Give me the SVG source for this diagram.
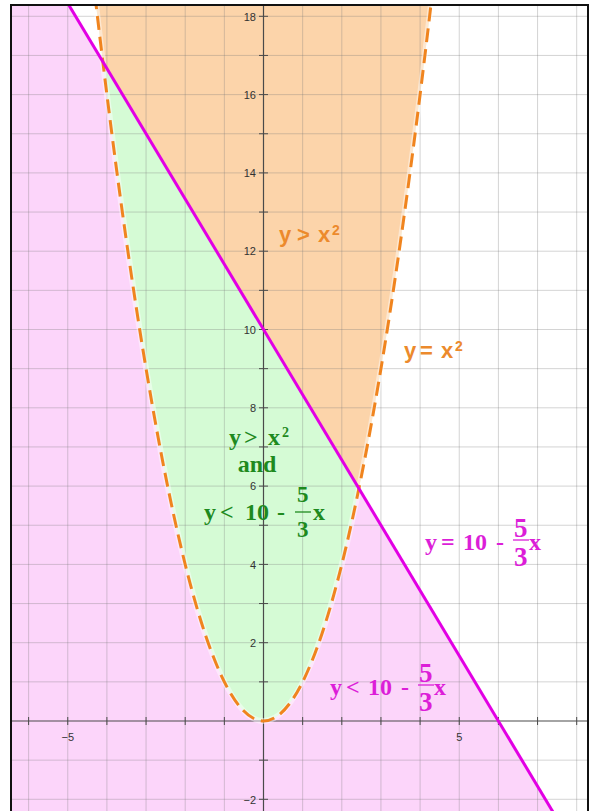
<svg xmlns="http://www.w3.org/2000/svg" width="592" height="811" viewBox="0 0 592 811">
<defs>
<style>
.grid line{stroke:#7a7a7a;stroke-opacity:0.32;stroke-width:1}
.axis{stroke:#4a4a4a;stroke-width:1.2}
.tick{stroke:#4a4a4a;stroke-width:1}
.num{font-family:"Liberation Sans",Arial,sans-serif;font-size:11px;fill:#333}
.or{font-family:"Liberation Sans",Arial,sans-serif;font-weight:bold;font-size:22px;fill:#ec8a2c}
.gr{font-family:"Liberation Serif","Times New Roman",serif;font-weight:bold;font-size:24px;fill:#1e8a1e}
.mg{font-family:"Liberation Serif","Times New Roman",serif;font-weight:bold;font-size:24px;fill:#dc1ed8}
.sup{font-size:14px}
.frac{font-size:27px}
</style>
<clipPath id="frame"><rect x="12" y="6" width="575" height="810"/></clipPath>
<clipPath id="above"><polygon points="62.8,-5 600,-5 600,890.3"/></clipPath>
</defs>
<rect x="0" y="0" width="592" height="811" fill="#fff"/>
<g id="plot" clip-path="url(#frame)">
  <g id="regions">
    <polygon id="pink" points="-10,-5 62.8,-5 555.4,816 -10,816" fill="#fcd5fa"/>
    <path id="green" d="M94.9,-5 Q263.5,1447 432.1,-5 Z" fill="#d5fbd5"/>
    <path id="orange" d="M94.9,-5 Q263.5,1447 432.1,-5 Z" fill="#fcd4aa" clip-path="url(#above)"/>
  </g>
  <g class="grid" id="grid">
    <line x1="28.6" y1="0" x2="28.6" y2="811"/>
    <line x1="67.75" y1="0" x2="67.75" y2="811"/>
    <line x1="106.9" y1="0" x2="106.9" y2="811"/>
    <line x1="146.05" y1="0" x2="146.05" y2="811"/>
    <line x1="185.2" y1="0" x2="185.2" y2="811"/>
    <line x1="224.35" y1="0" x2="224.35" y2="811"/>
    <line x1="302.65" y1="0" x2="302.65" y2="811"/>
    <line x1="341.8" y1="0" x2="341.8" y2="811"/>
    <line x1="380.95" y1="0" x2="380.95" y2="811"/>
    <line x1="420.1" y1="0" x2="420.1" y2="811"/>
    <line x1="459.25" y1="0" x2="459.25" y2="811"/>
    <line x1="498.4" y1="0" x2="498.4" y2="811"/>
    <line x1="537.55" y1="0" x2="537.55" y2="811"/>
    <line x1="576.7" y1="0" x2="576.7" y2="811"/>
    <line x1="0" y1="16.3" x2="592" y2="16.3"/>
    <line x1="0" y1="55.45" x2="592" y2="55.45"/>
    <line x1="0" y1="94.6" x2="592" y2="94.6"/>
    <line x1="0" y1="133.75" x2="592" y2="133.75"/>
    <line x1="0" y1="172.9" x2="592" y2="172.9"/>
    <line x1="0" y1="212.05" x2="592" y2="212.05"/>
    <line x1="0" y1="251.2" x2="592" y2="251.2"/>
    <line x1="0" y1="290.35" x2="592" y2="290.35"/>
    <line x1="0" y1="329.5" x2="592" y2="329.5"/>
    <line x1="0" y1="368.65" x2="592" y2="368.65"/>
    <line x1="0" y1="407.8" x2="592" y2="407.8"/>
    <line x1="0" y1="446.95" x2="592" y2="446.95"/>
    <line x1="0" y1="486.1" x2="592" y2="486.1"/>
    <line x1="0" y1="525.25" x2="592" y2="525.25"/>
    <line x1="0" y1="564.4" x2="592" y2="564.4"/>
    <line x1="0" y1="603.55" x2="592" y2="603.55"/>
    <line x1="0" y1="642.7" x2="592" y2="642.7"/>
    <line x1="0" y1="681.85" x2="592" y2="681.85"/>
    <line x1="0" y1="760.15" x2="592" y2="760.15"/>
    <line x1="0" y1="799.3" x2="592" y2="799.3"/>
  </g>
  <g id="axes">
    <line class="axis" x1="263.5" y1="0" x2="263.5" y2="811"/>
    <line class="axis" x1="0" y1="721" x2="592" y2="721"/>
    <path class="tick" d="M28.6,717v8M67.75,717v8M106.9,717v8M146.05,717v8M185.2,717v8M224.35,717v8M302.65,717v8M341.8,717v8M380.95,717v8M420.1,717v8M459.25,717v8M498.4,717v8M537.55,717v8M576.7,717v8
    M259,16.3h9M259,55.45h9M259,94.6h9M259,133.75h9M259,172.9h9M259,212.05h9M259,251.2h9M259,290.35h9M259,329.5h9M259,368.65h9M259,407.8h9M259,446.95h9M259,486.1h9M259,525.25h9M259,564.4h9M259,603.55h9M259,642.7h9M259,681.85h9M259,760.15h9M259,799.3h9"/>
    <g class="num" text-anchor="end">
      <text x="256" y="20.5">18</text>
      <text x="256" y="98.8">16</text>
      <text x="256" y="177.1">14</text>
      <text x="256" y="255.4">12</text>
      <text x="256" y="333.7">10</text>
      <text x="256" y="412">8</text>
      <text x="256" y="490.3">6</text>
      <text x="256" y="568.6">4</text>
      <text x="256" y="646.9">2</text>
      <text x="256" y="803.5">−2</text>
    </g>
    <g class="num" text-anchor="middle">
      <text x="67.75" y="741">−5</text>
      <text x="459.25" y="741">5</text>
    </g>
  </g>
  <g id="connectors">
    <path id="parabola-band" d="M94.9,-5 Q263.5,1447 432.1,-5" fill="none" stroke="#fff" stroke-opacity="0.45" stroke-width="6"/>
    <path id="parabola" d="M94.9,-5 Q263.5,1447 432.1,-5" fill="none" stroke="#f0841e" stroke-width="3" stroke-dasharray="14 7"/>
    <line id="boundary-line" x1="62.8" y1="-5" x2="555.4" y2="816" stroke="#e200e4" stroke-width="3"/>
  </g>
</g>
<g id="label-orange-region" class="or">
  <text x="279" y="242">y</text>
  <text x="297" y="242">&gt;</text>
  <text x="318" y="242">x</text>
  <text x="332" y="235" class="sup">2</text>
</g>
<g id="label-parabola" class="or">
  <text x="404" y="358">y</text>
  <text x="420" y="358">=</text>
  <text x="441" y="358">x</text>
  <text x="455" y="351" class="sup">2</text>
</g>
<g id="label-green-region" class="gr">
  <text x="229" y="445">y</text>
  <text x="244" y="445">&gt;</text>
  <text x="268" y="445">x</text>
  <text x="282" y="437" class="sup" font-size="15">2</text>
  <text x="257" y="472" text-anchor="middle">and</text>
  <text x="204" y="520">y</text>
  <text x="220" y="520">&lt;</text>
  <text x="245" y="520">10</text>
  <text x="277" y="520">-</text>
  <text x="297" y="502" font-size="23">5</text>
  <line x1="295" y1="512" x2="311" y2="512" stroke="#1e8a1e" stroke-width="1.3"/>
  <text x="297" y="537" font-size="23">3</text>
  <text x="313" y="520">x</text>
</g>
<g id="label-line" class="mg">
  <text x="425" y="550">y</text>
  <text x="441" y="550">=</text>
  <text x="463" y="550">10</text>
  <text x="496" y="550">-</text>
  <text x="514" y="537" class="frac">5</text>
  <line x1="513" y1="540" x2="529" y2="540" stroke="#dc1ed8" stroke-width="1.3"/>
  <text x="514" y="566" class="frac">3</text>
  <text x="529" y="550">x</text>
</g>
<g id="label-pink-region" class="mg">
  <text x="330" y="695">y</text>
  <text x="346" y="695">&lt;</text>
  <text x="368" y="695">10</text>
  <text x="401" y="695">-</text>
  <text x="419" y="682" class="frac">5</text>
  <line x1="418" y1="685" x2="434" y2="685" stroke="#dc1ed8" stroke-width="1.3"/>
  <text x="419" y="711" class="frac">3</text>
  <text x="434" y="695">x</text>
</g>
<rect id="frame-border" x="11" y="5" width="577" height="830" fill="none" stroke="#111" stroke-width="2"/>
</svg>
